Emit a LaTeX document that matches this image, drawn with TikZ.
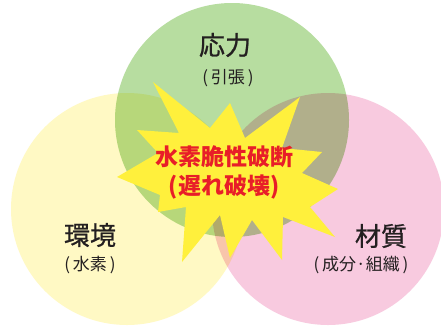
\documentclass[tikz,border=0pt]{standalone}
\usepackage{fontspec}
\newfontfamily\jp{Noto Sans CJK JP}
\newfontfamily\jpm[FakeBold=0.8]{Noto Sans CJK JP}
\definecolor{cgreen}{RGB}{183,221,160}
\definecolor{cyellow}{RGB}{255,249,196}
\definecolor{cpink}{RGB}{248,202,223}
\definecolor{cburst}{RGB}{255,240,60}
\definecolor{cred}{RGB}{232,30,40}
\definecolor{cink}{RGB}{35,31,32}
\tikzset{
  circ/.style={blend mode=multiply},
  mainlbl/.style={text=cink, font=\jpm\fontsize{26}{26}\selectfont, inner sep=0pt},
  sublbl/.style={text=cink, font=\jp\fontsize{17}{17}\selectfont, inner sep=0pt},
  burstlbl/.style={text=cred, font=\jp\bfseries\fontsize{23}{29}\selectfont, align=center, inner sep=0pt}
}
\begin{document}
\begin{tikzpicture}[x=1pt,y=-1pt]
\useasboundingbox (0,0) rectangle (441,327);
\fill[white] (0,0) rectangle (441,327);
\begin{scope}
\clip (0,0) rectangle (441,327);
\fill[cyellow, circ] (127,209) circle (116);
\fill[cpink, circ] (328,209) circle (116);
\fill[cgreen, circ] (232,120) circle (117);
\end{scope}
\fill[cburst] (153,82) -- (210,128) -- (230,103) -- (245,138) -- (300,97)
  -- (282,148) -- (322,152) -- (302,173) -- (338,189) -- (310,207)
  -- (335,237) -- (283,217) -- (282,260) -- (252,220) -- (230,258)
  -- (220,215) -- (182,262) -- (186,207) -- (158,212) -- (160,195)
  -- (117,177) -- (158,153) -- (137,130) -- (179,133) -- cycle;
\node[mainlbl] (stress) at (225,45) {応力};
\node[sublbl] (stresssub) at (228,78) {(\,引張\,)};
\node[mainlbl] (env) at (90,235) {環境};
\node[sublbl] (envsub) at (90,265) {(\,水素\,)};
\node[mainlbl] (mat) at (381,236) {材質};
\node[sublbl] (matsub) at (361,265) {(\,成分·組織\,)};
\node[burstlbl] (burst) at (224,172) {水素脆性破断\\(遅れ破壊)};
\end{tikzpicture}
\end{document}
